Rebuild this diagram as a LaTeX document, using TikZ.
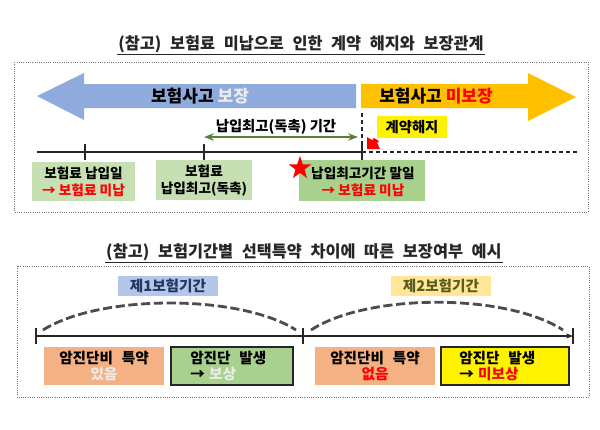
\documentclass[tikz,border=0pt]{standalone}
\usepackage{fontspec}
\setmainfont{Noto Sans CJK KR}
\usepackage{tikz}
\usetikzlibrary{arrows.meta, positioning}
\definecolor{arrowblue}{HTML}{8FAADC}
\definecolor{arrowgold}{HTML}{FFC000}
\definecolor{palegreen}{HTML}{C6E0B4}
\definecolor{midgreen}{HTML}{A9D18E}
\definecolor{arrowgreen}{HTML}{548235}
\definecolor{paleblue}{HTML}{B4C7E7}
\definecolor{paleyellow}{HTML}{FFE699}
\definecolor{paleorange}{HTML}{F4B183}
\definecolor{navytext}{HTML}{1F3864}
\definecolor{olivetext}{HTML}{5B5B1E}
\newcommand{\widewords}{\spaceskip=6.2pt\relax}
\tikzset{
    titletext/.style={font=\fontsize{11.6}{13}\selectfont\bfseries, execute at begin node=\widewords, inner sep=1pt, text=black!85},
    panel/.style={draw=black!55, densely dotted, line width=0.6pt},
    bigtext/.style={font=\fontsize{12.1}{14}\selectfont\bfseries, inner sep=0pt},
    boxtext/.style={font=\fontsize{9.7}{12.2}\selectfont\bfseries, align=center, inner sep=0pt},
    lowtext/.style={font=\fontsize{10.4}{10.8}\selectfont\bfseries, execute at begin node=\widewords, inner sep=0pt},
    timeline/.style={line width=0.9pt, black!85},
    periodarc/.style={line width=2pt, black!70, dash pattern=on 6.5pt off 2.6pt},
    framedbox/.style={draw=black!85, line width=1.2pt},
}
\begin{document}
\begin{tikzpicture}[x=0.025cm, y=-0.025cm]
    \useasboundingbox (0, 0) rectangle (600, 429);

    % Upper title and panel
    \node[titletext] (titleA) at (301, 44.5) {(참고) 보험료 미납으로 인한 계약 해지와 보장관계};
    \draw[line width=0.6pt, black!85] (titleA.south west) -- (titleA.south east);
    \draw[panel] (14, 62) rectangle (588, 212);

    % Big arrows
    \fill[arrowblue] (356, 84) -- (84, 84) -- (84, 73) -- (37, 96) -- (84, 120) -- (84, 108) -- (356, 108) -- cycle;
    \fill[arrowgold] (361, 84) -- (528, 84) -- (528, 73) -- (576, 97) -- (528, 121) -- (528, 108) -- (361, 108) -- cycle;
    \node[bigtext] (covered) at (200, 96.5) {보험사고 \textcolor{white!92!black}{보장}};
    \node[bigtext] (uncovered) at (436, 96.5) {보험사고 \textcolor{red}{미보장}};

    % Time axis
    \coordinate (axisA) at (37, 152);
    \coordinate (endA) at (362, 152);
    \coordinate (axisEnd) at (578, 152);
    \coordinate (cutTop) at (362, 113);
    \draw[timeline] (axisA) -- (endA);
    \draw[timeline, densely dashed] (endA) -- (axisEnd);
    \draw[timeline, densely dashed] (cutTop) -- (endA);
    \foreach \name/\xpos in {tickA/85, tickB/204, tickC/362} {
        \coordinate (\name) at (\xpos, 144);
        \draw[timeline] (\name) -- ++(0, 16);
    }

    % Grace period
    \coordinate (graceL) at (204, 137);
    \coordinate (graceR) at (358, 137);
    \draw[arrowgreen, line width=1.7pt, {Stealth[length=7pt]}-{Stealth[length=7pt]}] (graceL) -- (graceR);
    \node[boxtext, font=\fontsize{10.2}{11}\selectfont\bfseries] (graceText) at (276, 127) {납입최고(독촉) 기간};

    % Boxes under the axis
    \fill[palegreen] (32, 162) rectangle (135, 201);
    \fill[palegreen] (156, 160) rectangle (252, 200);
    \fill[midgreen] (299, 160) rectangle (425, 201);
    \node[boxtext] (dueDate) at (83.5, 182) {보험료 납입일\\\textcolor{red}{→ 보험료 미납}};
    \node[boxtext] (notice) at (204, 180.5) {보험료\\납입최고(독촉)};
    \node[boxtext] (graceEnd) at (363, 181.5) {납입최고기간 말일\\\textcolor{red}{→ 보험료 미납}};

    % Star and termination mark
    \fill[red] (300, 156) -- (302.8, 164.3) -- (311.5, 164.3) -- (304.5, 169.5) -- (307, 178) -- (300, 173) -- (293, 178) -- (295.5, 169.5) -- (288.5, 164.3) -- (297.2, 164.3) -- cycle;
    \fill[yellow] (377, 116) rectangle (447, 138);
    \node[boxtext, font=\fontsize{10.2}{11}\selectfont\bfseries] (cancel) at (412, 127) {계약해지};
    \fill[red] (367, 137) -- (367, 149) -- (380, 149) -- (377, 143) -- (379, 141) -- (374, 138) -- (372, 140) -- cycle;

    % Lower title and panel
    \node[titletext] (titleB) at (304, 252.5) {(참고) 보험기간별 선택특약 차이에 따른 보장여부 예시};
    \draw[line width=0.6pt, black!85] (titleB.south west) -- (titleB.south east);
    \draw[panel] (17, 266) rectangle (589, 397);

    % Period labels
    \fill[paleblue] (118, 276) rectangle (218, 296);
    \fill[paleyellow] (391, 276) rectangle (491, 296);
    \node[lowtext, text=navytext] (periodOne) at (168, 286) {제1보험기간};
    \node[lowtext, text=olivetext] (periodTwo) at (441, 286) {제2보험기간};

    % Period axis
    \coordinate (startT) at (36, 336);
    \coordinate (midT) at (303, 336);
    \coordinate (endT) at (573, 336);
    \draw[timeline, -{Stealth[length=5pt]}] (startT) -- (endT);
    \foreach \name in {startT, midT, endT} {
        \draw[timeline] (\name) ++(0, -8) -- ++(0, 16);
    }
    \draw[periodarc] (43, 330) .. controls (100, 294) and (240, 294) .. (296, 330);
    \draw[periodarc] (311, 330) .. controls (368, 293) and (506, 293) .. (563, 330);

    % Result boxes
    \fill[paleorange] (44, 347) rectangle (164, 385);
    \draw[framedbox, fill=midgreen] (171, 347) rectangle (293, 385);
    \fill[paleorange] (315, 347) rectangle (435, 385);
    \draw[framedbox, fill=yellow] (441, 347) rectangle (569, 385);
    \node[lowtext, align=center] (riderYes) at (104, 366) {암진단비 특약\\\textcolor{white!92!black}{있음}};
    \node[lowtext, align=left, anchor=west] (claimYes) at (190, 366) {암진단 발생\\→\hspace{3pt}\textcolor{white!92!black}{보상}};
    \node[lowtext, align=center] (riderNo) at (375, 366) {암진단비 특약\\\textcolor{red}{없음}};
    \node[lowtext, align=left, anchor=west] (claimNo) at (459, 366) {암진단 발생\\→\hspace{3pt}\textcolor{red}{미보상}};
\end{tikzpicture}
\end{document}
